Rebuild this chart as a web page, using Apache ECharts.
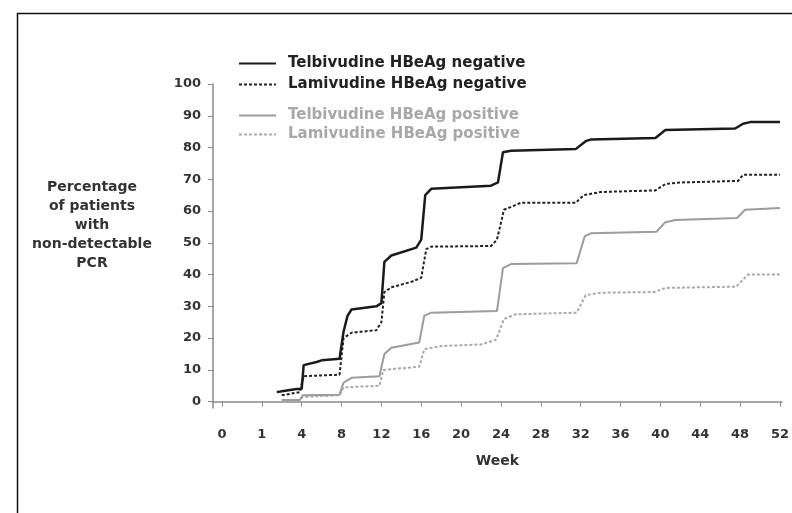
<!DOCTYPE html>
<html>
<head>
<meta charset="utf-8">
<script src="https://cdn.jsdelivr.net/npm/echarts@6/dist/echarts.min.js"></script>
<style>html,body{margin:0;padding:0;background:#fff}#c{width:792px;height:513px}</style>
</head>
<body>
<div id="c"></div>
<script>
// Tick positions (weeks) and the labels printed under them
var xTickWeeks = [-4, 0, 4, 8, 12, 16, 20, 24, 28, 32, 36, 40, 44, 48, 52];
var xTickLabels = ['0', '1', '4', '8', '12', '16', '20', '24', '28', '32', '36', '40', '44', '48', '52'];
var yTicks = [0, 10, 20, 30, 40, 50, 60, 70, 80, 90, 100];

var seriesNames = ['Telbivudine HBeAg negative', 'Lamivudine HBeAg negative', 'Telbivudine HBeAg positive', 'Lamivudine HBeAg positive'];

// [week, % with non-detectable PCR]
var telbNeg = [[1.5,3],[2.5,3.5],[3.5,4],[4,4],[4.2,11.5],[5.5,12.5],[6,13],[7.8,13.5],[8.2,22],[8.6,27],[9,29],[11.5,30],[12,31],[12.3,44],[13,46],[15.5,48.5],[16,51],[16.4,65],[17,67],[23,68],[23.7,69],[24.2,78.5],[25,79],[31.5,79.5],[32.5,82],[33,82.5],[39.5,83],[40.5,85.5],[47.5,86],[48.3,87.5],[49,88],[52,88]];
var lamNeg = [[2,2],[3.8,3],[4.2,8],[7.8,8.5],[8.2,20],[9,21.7],[11.5,22.5],[12,25],[12.3,34.5],[13,36],[15,37.7],[16,39],[16.5,48],[17,48.8],[23,49],[23.6,51],[24.3,60.4],[26,62.6],[31.5,62.6],[32.3,65],[34,66],[39.5,66.5],[40.5,68.5],[42,69],[47.8,69.5],[48.3,71.4],[52,71.4]];
var telbPos = [[2,0.5],[3.8,0.5],[4.1,2],[7.8,2.2],[8.2,6],[9,7.5],[11.8,8],[12.3,15],[13,17],[15.8,18.6],[16.3,27],[17,28],[23.6,28.5],[24.2,42],[25,43.3],[31.6,43.6],[32.4,52],[33,53],[39.6,53.5],[40.5,56.5],[41.5,57.2],[47.7,57.8],[48.5,60.4],[52,61]];
var lamPos = [[2,0.5],[3.8,0.5],[4.1,1.5],[7.8,2],[8.2,4.5],[11.8,5],[12.2,10],[15.8,11],[16.3,16.5],[18,17.5],[22,18],[23.5,19.5],[24.3,26],[25.5,27.5],[31.6,28],[32.5,33.5],[34,34.3],[39.4,34.5],[40.5,35.8],[47.6,36.2],[48.8,40],[52,40]];

var FONT = 'DejaVu Sans';
var chart = echarts.init(document.getElementById('c'), null, {renderer: 'canvas'});

function lineSeries(name, data, color, width, type) {
  return {
    name: name, type: 'line', data: data, symbol: 'none', showSymbol: false,
    lineStyle: {color: color, width: width, type: type},
    itemStyle: {color: color},
    animation: false, z: 3
  };
}

function legendBlock(top, gap, names, color) {
  return {
    orient: 'vertical', left: 238, top: top, padding: 0,
    itemWidth: 37, itemHeight: 10, itemGap: gap,
    itemStyle: {opacity: 0},
    data: names.map(function (n) { return {name: n, textStyle: {color: color}}; }),
    textStyle: {fontFamily: FONT, fontSize: 15, fontWeight: 'bold', color: color, padding: [0, 0, 0, 7]},
    selectedMode: false
  };
}

var option = {
  backgroundColor: '#fff',
  animation: false,
  grid: {left: 213, top: 84, width: 577, height: 324, containLabel: false},
  legend: [
    legendBlock(56, 6, [seriesNames[0], seriesNames[1]], '#222'),
    legendBlock(108, 4, [seriesNames[2], seriesNames[3]], '#a8a8a8')
  ],
  xAxis: {
    type: 'value', min: -4.9, max: 52.2,
    name: 'Week', nameLocation: 'middle', nameGap: 46,
    nameTextStyle: {fontFamily: FONT, fontSize: 14, fontWeight: 'bold', color: '#333'},
    axisLine: {onZero: true, lineStyle: {color: '#8a8a8a', width: 1.5}},
    axisTick: {show: true, length: 5, customValues: xTickWeeks, lineStyle: {color: '#8a8a8a'}},
    axisLabel: {
      customValues: xTickWeeks, margin: 20,
      fontFamily: FONT, fontSize: 13, fontWeight: 'bold', color: '#333',
      formatter: function (v) {
        var i = xTickWeeks.indexOf(Math.round(v));
        return i >= 0 ? xTickLabels[i] : '';
      }
    },
    splitLine: {show: false}
  },
  yAxis: {
    type: 'value', min: -2, max: 100,
    axisLine: {show: true, onZero: false, lineStyle: {color: '#8a8a8a', width: 1.5}},
    axisTick: {show: true, length: 5, customValues: yTicks, lineStyle: {color: '#8a8a8a'}},
    axisLabel: {customValues: yTicks, margin: 12, fontFamily: FONT, fontSize: 13, fontWeight: 'bold', color: '#333'},
    splitLine: {show: false}
  },
  series: [
    lineSeries(seriesNames[3], lamPos, '#aaaaaa', 2, [3, 2]),
    lineSeries(seriesNames[2], telbPos, '#9c9c9c', 2, 'solid'),
    lineSeries(seriesNames[1], lamNeg, '#222222', 2, [3, 2]),
    lineSeries(seriesNames[0], telbNeg, '#1a1a1a', 2.5, 'solid')
  ],
  graphic: [
    {
      type: 'rect', left: 15, top: 11, z: 10, silent: true,
      shape: {width: 800, height: 520},
      style: {fill: 'none', stroke: '#111', lineWidth: 1.5}
    },
    {
      type: 'text', z: 10, silent: true,
      style: {
        x: 92, y: 225, text: 'Percentage\nof patients\nwith\nnon-detectable\nPCR',
        align: 'center', verticalAlign: 'middle', lineHeight: 19,
        font: 'bold 14px "DejaVu Sans"', fill: '#333'
      }
    }
  ]
};
chart.setOption(option);
</script>
</body>
</html>
